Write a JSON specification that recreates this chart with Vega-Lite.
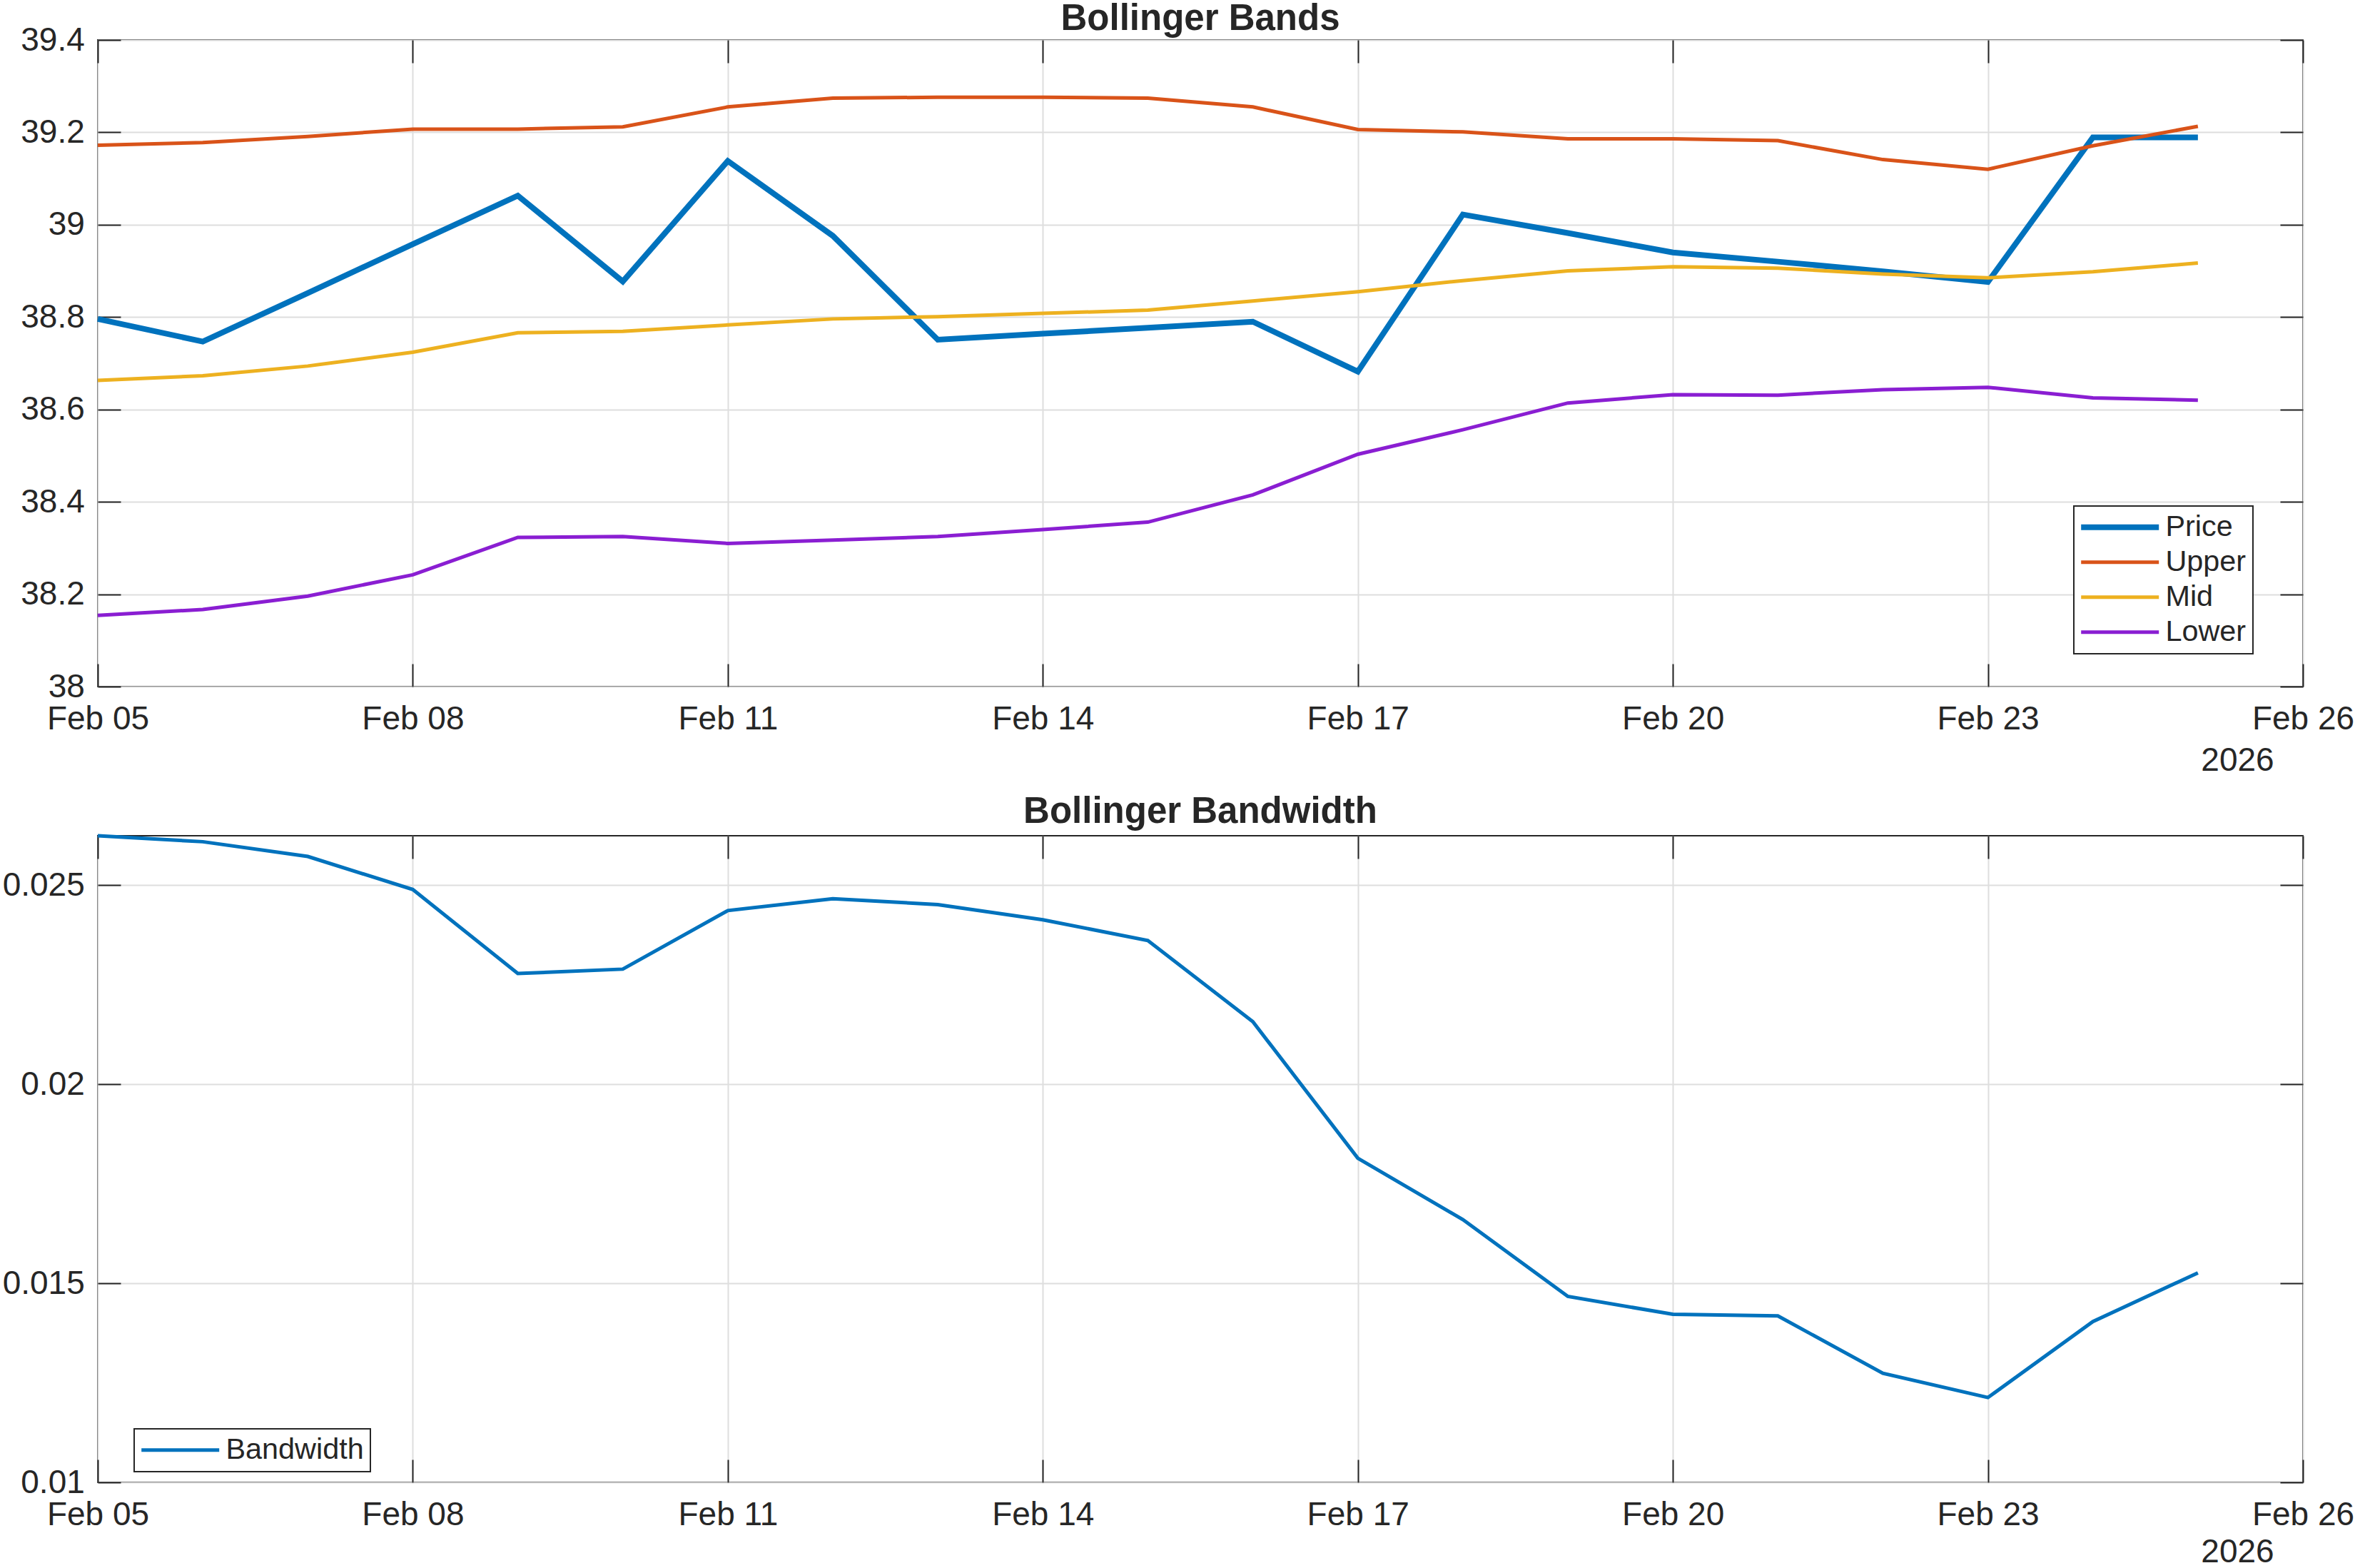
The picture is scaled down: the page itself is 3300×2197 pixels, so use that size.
{
  "$schema": "https://vega.github.io/schema/vega-lite/v6.json",
  "background": "white",
  "padding": {"left": 2, "top": 0, "right": 0, "bottom": 0},
  "spacing": 22,
  "config": {
    "font": "Liberation Sans",
    "view": {"stroke": "#262626", "strokeWidth": 2},
    "axis": {
      "grid": true, "gridColor": "#dedede", "gridWidth": 2,
      "domain": false,
      "tickColor": "#262626", "tickWidth": 2, "tickSize": -32,
      "labelFont": "Liberation Sans", "labelFontSize": 46, "labelColor": "#262626",
      "labelFlush": false, "labelOverlap": false,
      "titleFont": "Liberation Sans", "titleFontSize": 46, "titleFontWeight": "normal", "titleColor": "#262626"
    },
    "title": {"font": "Liberation Sans", "fontSize": 51, "fontWeight": "bold", "color": "#262626", "baseline": "alphabetic", "anchor": "middle"},
    "legend": {
      "orient": "none", "title": null,
      "symbolType": "stroke", "symbolSize": 11881, "symbolStrokeWidth": 5, "symbolOffset": 35,
      "labelFont": "Liberation Sans", "labelFontSize": 41.4, "labelColor": "#262626", "labelLimit": 0,
      "labelOffset": 43, "rowPadding": 6, "padding": 9,
      "strokeColor": "#262626", "fillColor": "white", "cornerRadius": 0, "strokeWidth": 2
    }
  },
  "resolve": {"scale": {"color": "independent"}, "legend": {"color": "independent"}},
  "datasets": {
    "bands": [
      {"date": "2026-02-05", "series": "Price", "value": 38.796},
      {"date": "2026-02-06", "series": "Price", "value": 38.747},
      {"date": "2026-02-07", "series": "Price", "value": 38.852},
      {"date": "2026-02-08", "series": "Price", "value": 38.958},
      {"date": "2026-02-09", "series": "Price", "value": 39.063},
      {"date": "2026-02-10", "series": "Price", "value": 38.877},
      {"date": "2026-02-11", "series": "Price", "value": 39.138},
      {"date": "2026-02-12", "series": "Price", "value": 38.976},
      {"date": "2026-02-13", "series": "Price", "value": 38.751},
      {"date": "2026-02-14", "series": "Price", "value": 38.764},
      {"date": "2026-02-15", "series": "Price", "value": 38.777},
      {"date": "2026-02-16", "series": "Price", "value": 38.790},
      {"date": "2026-02-17", "series": "Price", "value": 38.682},
      {"date": "2026-02-18", "series": "Price", "value": 39.022},
      {"date": "2026-02-19", "series": "Price", "value": 38.982},
      {"date": "2026-02-20", "series": "Price", "value": 38.940},
      {"date": "2026-02-21", "series": "Price", "value": 38.920},
      {"date": "2026-02-22", "series": "Price", "value": 38.899},
      {"date": "2026-02-23", "series": "Price", "value": 38.876},
      {"date": "2026-02-24", "series": "Price", "value": 39.189},
      {"date": "2026-02-25", "series": "Price", "value": 39.189},
      {"date": "2026-02-05", "series": "Upper", "value": 39.172},
      {"date": "2026-02-06", "series": "Upper", "value": 39.178},
      {"date": "2026-02-07", "series": "Upper", "value": 39.191},
      {"date": "2026-02-08", "series": "Upper", "value": 39.207},
      {"date": "2026-02-09", "series": "Upper", "value": 39.207},
      {"date": "2026-02-10", "series": "Upper", "value": 39.212},
      {"date": "2026-02-11", "series": "Upper", "value": 39.255},
      {"date": "2026-02-12", "series": "Upper", "value": 39.274},
      {"date": "2026-02-13", "series": "Upper", "value": 39.276},
      {"date": "2026-02-14", "series": "Upper", "value": 39.276},
      {"date": "2026-02-15", "series": "Upper", "value": 39.274},
      {"date": "2026-02-16", "series": "Upper", "value": 39.255},
      {"date": "2026-02-17", "series": "Upper", "value": 39.206},
      {"date": "2026-02-18", "series": "Upper", "value": 39.201},
      {"date": "2026-02-19", "series": "Upper", "value": 39.186},
      {"date": "2026-02-20", "series": "Upper", "value": 39.186},
      {"date": "2026-02-21", "series": "Upper", "value": 39.182},
      {"date": "2026-02-22", "series": "Upper", "value": 39.141},
      {"date": "2026-02-23", "series": "Upper", "value": 39.120},
      {"date": "2026-02-24", "series": "Upper", "value": 39.171},
      {"date": "2026-02-25", "series": "Upper", "value": 39.213},
      {"date": "2026-02-05", "series": "Mid", "value": 38.663},
      {"date": "2026-02-06", "series": "Mid", "value": 38.673},
      {"date": "2026-02-07", "series": "Mid", "value": 38.694},
      {"date": "2026-02-08", "series": "Mid", "value": 38.724},
      {"date": "2026-02-09", "series": "Mid", "value": 38.766},
      {"date": "2026-02-10", "series": "Mid", "value": 38.769},
      {"date": "2026-02-11", "series": "Mid", "value": 38.783},
      {"date": "2026-02-12", "series": "Mid", "value": 38.796},
      {"date": "2026-02-13", "series": "Mid", "value": 38.801},
      {"date": "2026-02-14", "series": "Mid", "value": 38.808},
      {"date": "2026-02-15", "series": "Mid", "value": 38.815},
      {"date": "2026-02-16", "series": "Mid", "value": 38.835},
      {"date": "2026-02-17", "series": "Mid", "value": 38.855},
      {"date": "2026-02-18", "series": "Mid", "value": 38.879},
      {"date": "2026-02-19", "series": "Mid", "value": 38.900},
      {"date": "2026-02-20", "series": "Mid", "value": 38.909},
      {"date": "2026-02-21", "series": "Mid", "value": 38.906},
      {"date": "2026-02-22", "series": "Mid", "value": 38.893},
      {"date": "2026-02-23", "series": "Mid", "value": 38.885},
      {"date": "2026-02-24", "series": "Mid", "value": 38.898},
      {"date": "2026-02-25", "series": "Mid", "value": 38.917},
      {"date": "2026-02-05", "series": "Lower", "value": 38.154},
      {"date": "2026-02-06", "series": "Lower", "value": 38.167},
      {"date": "2026-02-07", "series": "Lower", "value": 38.196},
      {"date": "2026-02-08", "series": "Lower", "value": 38.242},
      {"date": "2026-02-09", "series": "Lower", "value": 38.323},
      {"date": "2026-02-10", "series": "Lower", "value": 38.325},
      {"date": "2026-02-11", "series": "Lower", "value": 38.310},
      {"date": "2026-02-12", "series": "Lower", "value": 38.317},
      {"date": "2026-02-13", "series": "Lower", "value": 38.325},
      {"date": "2026-02-14", "series": "Lower", "value": 38.340},
      {"date": "2026-02-15", "series": "Lower", "value": 38.356},
      {"date": "2026-02-16", "series": "Lower", "value": 38.415},
      {"date": "2026-02-17", "series": "Lower", "value": 38.503},
      {"date": "2026-02-18", "series": "Lower", "value": 38.556},
      {"date": "2026-02-19", "series": "Lower", "value": 38.614},
      {"date": "2026-02-20", "series": "Lower", "value": 38.632},
      {"date": "2026-02-21", "series": "Lower", "value": 38.631},
      {"date": "2026-02-22", "series": "Lower", "value": 38.643},
      {"date": "2026-02-23", "series": "Lower", "value": 38.648},
      {"date": "2026-02-24", "series": "Lower", "value": 38.625},
      {"date": "2026-02-25", "series": "Lower", "value": 38.620}
    ],
    "bw": [
      {"date": "2026-02-05", "bw": 0.02624},
      {"date": "2026-02-06", "bw": 0.02609},
      {"date": "2026-02-07", "bw": 0.02572},
      {"date": "2026-02-08", "bw": 0.02489},
      {"date": "2026-02-09", "bw": 0.02278},
      {"date": "2026-02-10", "bw": 0.02289},
      {"date": "2026-02-11", "bw": 0.02436},
      {"date": "2026-02-12", "bw": 0.02466},
      {"date": "2026-02-13", "bw": 0.02451},
      {"date": "2026-02-14", "bw": 0.02413},
      {"date": "2026-02-15", "bw": 0.02361},
      {"date": "2026-02-16", "bw": 0.02157},
      {"date": "2026-02-17", "bw": 0.01814},
      {"date": "2026-02-18", "bw": 0.01660},
      {"date": "2026-02-19", "bw": 0.01467},
      {"date": "2026-02-20", "bw": 0.01422},
      {"date": "2026-02-21", "bw": 0.01418},
      {"date": "2026-02-22", "bw": 0.01274},
      {"date": "2026-02-23", "bw": 0.01213},
      {"date": "2026-02-24", "bw": 0.01404},
      {"date": "2026-02-25", "bw": 0.01526}
    ]
  },
  "vconcat": [
    {
      "title": {"text": "Bollinger Bands", "offset": -20},
      "width": 3090, "height": 906,
      "data": {"name": "bands"},
      "resolve": {"axis": {"x": "independent", "y": "independent"}},
      "layer": [
        {
          "layer": [
            {
              "transform": [{"filter": "datum.series === 'Price'"}],
              "mark": {"type": "line", "strokeWidth": 8},
              "encoding": {
                "x": {"field": "date", "type": "temporal",
                  "scale": {"type": "utc", "domain": [{"year": 2026, "month": 2, "date": 5, "utc": true}, {"year": 2026, "month": 2, "date": 26, "utc": true}]},
                  "axis": {"values": [{"year": 2026, "month": 2, "date": 5, "utc": true}, {"year": 2026, "month": 2, "date": 8, "utc": true}, {"year": 2026, "month": 2, "date": 11, "utc": true}, {"year": 2026, "month": 2, "date": 14, "utc": true}, {"year": 2026, "month": 2, "date": 17, "utc": true}, {"year": 2026, "month": 2, "date": 20, "utc": true}, {"year": 2026, "month": 2, "date": 23, "utc": true}, {"year": 2026, "month": 2, "date": 26, "utc": true}],
                    "format": "%b %d", "labelPadding": 55,
                    "title": "2026", "titleX": 2998, "titleY": 117, "titleBaseline": "alphabetic", "titleAlign": "center"}},
                "y": {"field": "value", "type": "quantitative",
                  "scale": {"domain": [38, 39.4], "nice": false, "zero": false},
                  "axis": {"values": [38, 38.2, 38.4, 38.6, 38.8, 39, 39.2, 39.4], "format": "~g", "labelPadding": 50.7, "title": null}},
                "color": {"field": "series", "type": "nominal",
                  "scale": {"domain": ["Price", "Upper", "Mid", "Lower"], "range": ["#0072BD", "#D95319", "#EDB120", "#8A1ED2"]},
                  "legend": {"orient": "none", "legendX": 2769, "legendY": 653,
                    "encode": {"symbols": {"update": {"strokeWidth": {"signal": "datum.value === 'Price' ? 8 : 5"}}}}}}
              }
            },
            {
              "transform": [{"filter": "datum.series !== 'Price'"}],
              "mark": {"type": "line", "strokeWidth": 5},
              "encoding": {
                "x": {"field": "date", "type": "temporal"},
                "y": {"field": "value", "type": "quantitative"},
                "color": {"field": "series", "type": "nominal"}
              }
            }
          ]
        },
        {
          "mark": {"type": "line", "opacity": 0},
          "encoding": {
            "x": {"field": "date", "type": "temporal",
              "axis": {"orient": "top", "labels": false, "grid": false, "title": null,
                "values": [{"year": 2026, "month": 2, "date": 5, "utc": true}, {"year": 2026, "month": 2, "date": 8, "utc": true}, {"year": 2026, "month": 2, "date": 11, "utc": true}, {"year": 2026, "month": 2, "date": 14, "utc": true}, {"year": 2026, "month": 2, "date": 17, "utc": true}, {"year": 2026, "month": 2, "date": 20, "utc": true}, {"year": 2026, "month": 2, "date": 23, "utc": true}, {"year": 2026, "month": 2, "date": 26, "utc": true}]}},
            "y": {"field": "value", "type": "quantitative",
              "axis": {"orient": "right", "labels": false, "grid": false, "title": null, "values": [38, 38.2, 38.4, 38.6, 38.8, 39, 39.2, 39.4]}},
            "detail": {"field": "series"}
          }
        }
      ]
    },
    {
      "title": {"text": "Bollinger Bandwidth", "offset": -3},
      "width": 3090, "height": 906,
      "data": {"name": "bw"},
      "resolve": {"axis": {"x": "independent", "y": "independent"}},
      "layer": [
        {
          "mark": {"type": "line", "strokeWidth": 5},
          "encoding": {
            "x": {"field": "date", "type": "temporal",
              "scale": {"type": "utc", "domain": [{"year": 2026, "month": 2, "date": 5, "utc": true}, {"year": 2026, "month": 2, "date": 26, "utc": true}]},
              "axis": {"values": [{"year": 2026, "month": 2, "date": 5, "utc": true}, {"year": 2026, "month": 2, "date": 8, "utc": true}, {"year": 2026, "month": 2, "date": 11, "utc": true}, {"year": 2026, "month": 2, "date": 14, "utc": true}, {"year": 2026, "month": 2, "date": 17, "utc": true}, {"year": 2026, "month": 2, "date": 20, "utc": true}, {"year": 2026, "month": 2, "date": 23, "utc": true}, {"year": 2026, "month": 2, "date": 26, "utc": true}],
                "format": "%b %d", "labelPadding": 55,
                "title": "2026", "titleX": 2998, "titleY": 111, "titleBaseline": "alphabetic", "titleAlign": "center"}},
            "y": {"field": "bw", "type": "quantitative",
              "scale": {"domain": [0.01, 0.02624], "nice": false, "zero": false},
              "axis": {"values": [0.01, 0.015, 0.02, 0.025], "format": "~g", "labelPadding": 50.7, "title": null}},
            "color": {"datum": "Bandwidth",
              "scale": {"domain": ["Bandwidth"], "range": ["#0072BD"]},
              "legend": {"orient": "none", "legendX": 51, "legendY": 831,
                "encode": {"symbols": {"update": {"strokeWidth": {"signal": "datum.value === 'Bandwidth' ? 5 : 5"}}}}}}
          }
        },
        {
          "mark": {"type": "line", "opacity": 0},
          "encoding": {
            "x": {"field": "date", "type": "temporal",
              "axis": {"orient": "top", "labels": false, "grid": false, "title": null,
                "values": [{"year": 2026, "month": 2, "date": 5, "utc": true}, {"year": 2026, "month": 2, "date": 8, "utc": true}, {"year": 2026, "month": 2, "date": 11, "utc": true}, {"year": 2026, "month": 2, "date": 14, "utc": true}, {"year": 2026, "month": 2, "date": 17, "utc": true}, {"year": 2026, "month": 2, "date": 20, "utc": true}, {"year": 2026, "month": 2, "date": 23, "utc": true}, {"year": 2026, "month": 2, "date": 26, "utc": true}]}},
            "y": {"field": "bw", "type": "quantitative",
              "axis": {"orient": "right", "labels": false, "grid": false, "title": null, "values": [0.01, 0.015, 0.02, 0.025]}}
          }
        }
      ]
    }
  ]
}
